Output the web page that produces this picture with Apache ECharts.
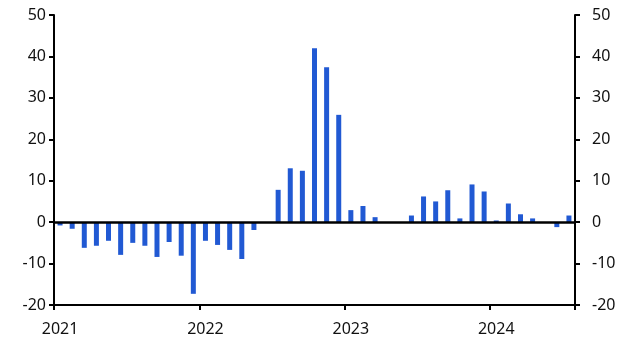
<!DOCTYPE html>
<html>
<head>
<meta charset="utf-8">
<script src="https://cdn.jsdelivr.net/npm/echarts@6/dist/echarts.min.js"></script>
<style>html,body{margin:0;padding:0;background:#fff;}#c{width:628px;height:353px;}</style>
</head>
<body>
<div id="c"></div>
<script>
// Monthly categories Jan 2021 .. Jul 2024
const years = ['2021', '2022', '2023', '2024'];
const months = [];
for (let y = 2021; y <= 2024; y++) {
  for (let m = 1; m <= 12; m++) {
    if (y === 2024 && m > 7) break;
    months.push(y + '-' + (m < 10 ? '0' + m : m));
  }
}
const values2021 = [-0.8, -1.6, -6.2, -5.7, -4.5, -7.9, -5.0, -5.7, -8.4, -4.8, -8.1, -17.3];
const values2022 = [-4.5, -5.5, -6.7, -8.9, -1.9, 0, 7.8, 13.0, 12.4, 42.0, 37.4, 25.9];
const values2023 = [2.9, 3.9, 1.2, 0, 0, 1.6, 6.2, 5.0, 7.7, 0.9, 9.1, 7.4];
const values2024 = [0.4, 4.5, 1.9, 0.9, 0, -1.2, 1.6];
const values = values2021.concat(values2022, values2023, values2024);
const yTicks = { min: -20, max: 50, interval: 10 };

const chart = echarts.init(document.getElementById('c'), null, { renderer: 'canvas' });
const font = '"Noto Sans", "Open Sans", sans-serif';
const axisCommon = {
  type: 'value',
  min: yTicks.min, max: yTicks.max, interval: yTicks.interval,
  splitLine: { show: false },
  axisLine: { show: true, lineStyle: { color: '#000', width: 2 } },
  axisTick: { show: true, inside: false, length: 5, lineStyle: { color: '#000', width: 2 } }
};
chart.setOption({
  animation: false,
  grid: { left: 54, right: 53, top: 15, bottom: 48, containLabel: false },
  xAxis: {
    type: 'category',
    data: months,
    boundaryGap: true,
    axisLine: { onZero: false, lineStyle: { color: '#000', width: 2 } },
    axisTick: { show: true, length: 5, interval: function (i) { return i % 12 === 0; }, lineStyle: { color: '#000', width: 2 } },
    axisLabel: {
      interval: function (i) { return i % 12 === 0; },
      formatter: function (v) { return v.slice(0, 4); },
      color: '#111', fontSize: 16, fontFamily: font, margin: 16
    }
  },
  yAxis: [
    Object.assign({}, axisCommon, { position: 'left', axisLabel: { color: '#111', fontSize: 16, fontFamily: font, margin: 8 } }),
    Object.assign({}, axisCommon, { position: 'right', axisLabel: { color: '#111', fontSize: 16, fontFamily: font, margin: 17 } })
  ],
  series: [{
    type: 'bar',
    data: values,
    barWidth: 5,
    itemStyle: { color: '#2159d3' },
    markLine: {
      silent: true, symbol: 'none', label: { show: false },
      lineStyle: { color: '#000', width: 2.5, type: 'solid' },
      data: [{ yAxis: 0 }]
    }
  }]
});
</script>
</body>
</html>
